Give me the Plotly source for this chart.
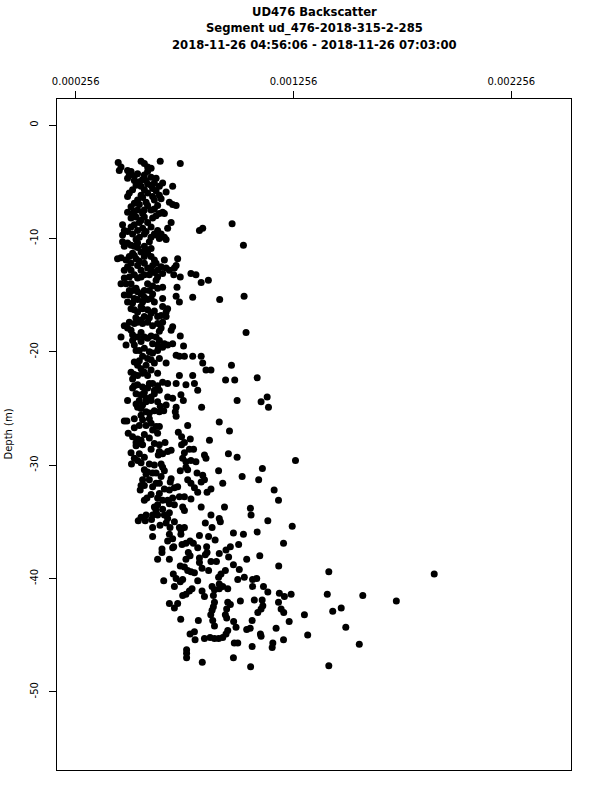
import plotly.graph_objects as go

# ---- data (backscatter in units of 1e-6, depth in m) ----
bs_a = [451,464,456,556,571,586,602,644,736,494,
        510,502,494,540,571,586,579,602,625,525,
        533,517,502,494,556,571,556,540,525,510,
        602,617,640,586,609,655,671,701,686,701,
        717,617,648,632,617,586,602,571,494,517,
        540,563,533,556,571,655,663,694,471,479,
        471,494,510,525,540,563,571,548,533,602,
        632,648,663,671,640,625,602,594,678,471,
        479,494,510,525,540,571,579,602,448,464,
        502,517,533,510,494,510,540,556,525,502,
        586,602,617,609,602,586,632,648,671,686,
        709,724,717,785,808,632,655,824,839,974,
        1026]
dep_a = [-3.3,-3.7,-4.0,-3.2,-3.4,-3.7,-3.8,-3.2,-3.4,-4.0,
         -4.1,-4.4,-4.7,-4.3,-4.4,-4.1,-4.9,-4.6,-4.7,-4.9,
         -5.3,-5.7,-6.0,-6.3,-5.4,-5.7,-6.2,-6.6,-6.9,-7.2,
         -5.3,-5.1,-5.4,-6.0,-6.3,-5.1,-5.9,-5.4,-6.8,-7.0,
         -7.1,-6.6,-6.5,-7.1,-7.4,-7.1,-7.5,-7.5,-7.7,-7.8,
         -7.5,-7.8,-8.1,-8.4,-8.1,-7.7,-7.8,-8.6,-8.8,-9.3,
         -9.7,-9.4,-9.0,-8.8,-9.3,-9.1,-9.6,-9.9,-10.1,-9.0,
         -9.3,-9.6,-9.9,-10.1,-10.0,-9.7,-9.9,-10.3,-9.1,-10.3,
         -10.7,-10.4,-10.6,-10.7,-10.4,-10.7,-11.0,-10.9,-11.8,-11.7,
         -11.6,-11.3,-11.8,-12.2,-12.5,-12.8,-12.4,-12.8,-13.2,-13.4,
         -11.3,-11.6,-11.9,-12.4,-12.8,-12.6,-12.8,-12.5,-12.6,-12.8,
         -12.6,-11.8,-12.4,-13.1,-13.2,-13.4,-13.1,-9.3,-9.1,-8.7,
         -10.6]

bs_b = [479,540,556,571,487,464,510,625,655,706,
        721,736,793,832,865,717,732,479,502,517,
        540,556,571,594,609,632,494,517,540,563,
        586,617,655,678,671,648,632,655,525,540,
        563,586,602,571,671,479,494,510,525,540,
        563,586,609,632,655,648,640,701,694,464,
        487,517,540,556,571,586,625,640,663,632,
        736,751,533,548,571,594,609,632,655,678,
        701,717,732,755,793,832,839,671,525,540,
        556,579,602,617,854,877,793,510,517,540,
        563,586,632,732,801,762,816,517,540,563,
        586,609,617,655,678,717,640,533,556,579,
        602,617,678,701,739,1038,1029,917,971,944,
        986,1089]
dep_b = [-13.5,-13.5,-13.4,-13.2,-14.0,-14.0,-14.0,-13.7,-14.3,-13.2,
         -14.3,-13.4,-15.2,-13.9,-13.7,-15.1,-15.6,-15.0,-15.0,-14.6,
         -14.7,-14.9,-14.6,-14.6,-14.9,-14.4,-15.6,-15.7,-15.4,-15.6,
         -15.4,-15.6,-15.3,-16.2,-16.5,-16.8,-16.9,-16.0,-16.3,-16.5,
         -16.2,-16.3,-16.6,-16.9,-16.9,-17.7,-17.9,-18.1,-17.5,-17.4,
         -17.5,-17.4,-17.7,-17.5,-17.4,-17.9,-18.2,-17.8,-18.1,-18.7,
         -19.4,-19.0,-18.7,-19.1,-18.7,-18.8,-18.7,-19.0,-19.3,-19.4,
         -18.6,-19.5,-19.9,-19.9,-19.7,-20.0,-20.1,-19.9,-19.6,-19.4,
         -19.3,-20.3,-20.4,-20.4,-20.4,-20.4,-21.0,-21.0,-20.9,-21.2,
         -21.5,-21.2,-20.7,-21.0,-21.6,-21.6,-22.1,-21.8,-22.4,-22.1,
         -21.9,-22.1,-21.9,-22.1,-22.8,-22.9,-23.4,-23.2,-22.9,-23.1,
         -23.2,-22.8,-23.4,-22.7,-22.8,-22.8,-23.4,-23.7,-23.8,-24.1,
         -24.0,-23.7,-24.0,-24.1,-23.8,-18.3,-15.1,-15.4,-21.2,-22.5,
         -22.5,-22.3]

bs_c = [494,533,540,563,579,602,632,644,671,717,
        750,834,997,1107,1135,1141,525,479,491,556,
        579,594,617,640,660,713,717,548,579,602,
        625,640,609,632,770,915,962,497,517,533,
        540,556,548,533,563,617,640,666,727,742,
        755,742,782,870,510,640,655,678,694,635,
        755,778,797,847,854,957,997,1265,512,540,
        556,648,655,663,747,762,785,808,571,579,
        586,609,625,736,762,770,813,839,847,832,
        912,1020,1113,1096,563,556,552,571,583,625,
        640,663,686,709,724,640,694,690,770,785,
        801,816,877,859,931,1167,1187,632,655,678,
        686,709,747,755,701,732,755,785,832,877,
        915,939,1058,1061,617,625,556,579,632,663,
        678,571,609]
dep_c = [-24.3,-24.6,-24.9,-24.7,-24.4,-24.3,-24.4,-24.8,-24.7,-24.9,
         -24.3,-24.9,-24.3,-24.4,-24.0,-24.9,-25.9,-26.1,-26.1,-25.6,
         -25.3,-25.4,-25.2,-25.3,-25.2,-25.3,-25.7,-26.5,-26.5,-26.3,
         -26.6,-26.6,-26.9,-27.2,-26.5,-26.2,-27.0,-27.2,-27.5,-28.0,
         -27.7,-27.8,-28.1,-28.3,-28.2,-28.1,-28.2,-28.0,-27.1,-27.5,
         -28.0,-28.2,-27.7,-27.8,-28.9,-28.8,-29.0,-28.8,-28.7,-29.1,
         -28.9,-28.6,-28.6,-29.1,-29.4,-29.0,-29.3,-29.6,-29.9,-29.6,
         -29.8,-29.9,-30.2,-30.5,-29.4,-29.7,-29.6,-29.7,-30.4,-30.8,
         -30.6,-30.7,-30.7,-30.5,-30.2,-30.4,-30.7,-30.9,-31.3,-31.5,
         -30.5,-31.0,-30.3,-31.3,-31.3,-31.8,-32.2,-31.8,-32.9,-31.6,
         -31.6,-32.1,-32.2,-32.0,-31.9,-32.5,-31.2,-31.5,-31.3,-31.6,
         -32.0,-32.4,-32.1,-32.4,-31.6,-32.2,-33.1,-32.9,-33.1,-33.1,
         -33.4,-33.5,-33.7,-34.0,-32.9,-32.8,-32.8,-33.0,-33.7,-34.4,
         -34.7,-33.7,-33.8,-34.4,-33.7,-34.0,-34.6,-34.4,-34.4,-34.4,
         -34.7,-33.1,-34.4]

bs_d = [543,575,604,609,643,671,689,709,732,755,
        851,882,920,1138,1250,609,686,701,678,739,
        739,824,866,896,980,1026,1089,652,652,706,
        744,762,781,796,816,857,859,851,915,946,
        966,958,1004,1210,632,686,701,773,781,762,
        824,824,877,902,980,1007,1041,1101,1188,736,
        755,770,785,801,836,866,923,943,704,717,
        660,747,736,816,912,915,931,954,1000,1030,
        1068,1087,1068,1118,709,790,778,762,747,836,
        847,882,893,915,1138,1191,1214,1245,686,709,
        724,888,893,888,882,876,885,893,954,966,
        949,943,949,1012,1076,1112,1115,1107,1092,1187,
        1199,1211,738,819,981,992,1066,1236,1306,781,
        801,804,847,873,893,912,931,946,954,1041,
        1057,1104,1107,1176,1321,1161,1158,1210,984,1000,
        1066,765,765,765,837,980,1059]
dep_d = [-34.9,-34.9,-34.8,-35.5,-35.3,-35.1,-35.5,-35.0,-35.5,-35.5,
         -35.1,-35.5,-35.0,-34.9,-35.4,-36.3,-36.1,-36.5,-36.7,-35.7,
         -36.1,-36.2,-36.3,-36.6,-36.0,-36.1,-35.9,-37.4,-37.7,-37.2,
         -37.0,-36.9,-36.7,-36.9,-37.3,-37.2,-37.7,-37.9,-37.8,-37.5,
         -37.2,-38.1,-37.0,-36.9,-38.3,-38.3,-37.3,-37.7,-38.0,-38.3,
         -38.2,-38.6,-38.5,-38.5,-38.8,-39.2,-38.3,-38.0,-38.9,-38.9,
         -39.0,-39.3,-39.4,-39.5,-39.1,-39.3,-39.6,-39.3,-39.6,-40.0,
         -40.2,-40.1,-40.3,-40.2,-39.9,-40.5,-40.7,-40.9,-40.1,-39.9,
         -40.1,-40.0,-40.7,-40.7,-40.7,-40.9,-41.1,-41.4,-41.5,-41.1,
         -41.6,-40.7,-41.0,-40.9,-41.2,-41.3,-41.6,-41.4,-42.2,-42.6,
         -42.2,-41.5,-42.1,-42.5,-42.8,-43.2,-43.7,-44.2,-42.1,-42.3,
         -42.7,-43.2,-43.5,-42.0,-41.9,-41.9,-42.4,-42.7,-43.0,-42.1,
         -42.7,-43.0,-43.6,-43.7,-43.8,-44.3,-43.7,-43.8,-43.2,-44.9,
         -44.7,-45.4,-45.3,-45.2,-45.3,-45.3,-45.2,-44.9,-44.6,-44.5,
         -44.4,-44.9,-45.1,-44.4,-45.0,-45.7,-46.1,-45.4,-45.7,-45.7,
         -46.0,-46.3,-46.6,-47.0,-47.4,-47.0,-47.8]

bs_far = [1418, 1902, 1411, 1574, 1728, 1436, 1475, 1496, 1558, 1418]
dep_far = [-39.4, -39.6, -41.4, -41.5, -42.0, -42.9, -42.6, -44.3, -45.8, -47.7]

# overlapping readings inside the solid-looking core of the cloud
bs_core = [525,548,563,586,625,640,609,563,579,548,
           525,510,548,586,609,625,640,517,579,617,
           540,556,571,525,548,571,625,487,479,594,
           617,663,533,586,609,502,525,571,602,510,
           556,617,532,556,594,502,517,556,602,609,
           525,563,586,640,548,571,602,525,594,525,
           571,632,548,556,594,563,525,571,594,602,
           548,525,571,594,617,594,609,602,632,655,
           686,648]
dep_core = [-4.5,-5.0,-4.8,-5.2,-5.8,-6.2,-5.6,-6.4,-6.8,-7.0,
            -7.6,-8.2,-8.6,-8.6,-8.2,-8.0,-7.8,-9.6,-9.4,-9.6,
            -10.8,-11.2,-11.6,-11.5,-12.0,-12.2,-12.2,-11.9,-12.8,-13.2,
            -13.0,-11.9,-14.4,-14.0,-14.2,-14.6,-15.3,-15.2,-15.3,-16.2,
            -16.0,-16.4,-17.0,-17.2,-17.0,-17.4,-18.5,-18.3,-18.6,-19.3,
            -19.4,-20.4,-20.6,-20.6,-20.8,-21.8,-21.6,-22.0,-22.8,-23.0,
            -23.6,-23.0,-24.3,-25.0,-25.9,-26.0,-26.7,-27.3,-27.6,-28.6,
            -29.0,-29.4,-29.3,-29.9,-30.0,-31.3,-31.9,-32.6,-33.5,-33.9,
            -34.2,-31.0]

x_tick_vals = [0.000256, 0.001256, 0.002256]
x_tick_text = ["0.000256", "0.001256", "0.002256"]
y_tick_vals = [0, -10, -20, -30, -40, -50]
y_tick_text = ["0", "-10", "-20", "-30", "-40", "-50"]

title_lines = ["UD476 Backscatter",
               "Segment ud_476-2018-315-2-285",
               "2018-11-26 04:56:06 - 2018-11-26 07:03:00"]
y_label = "Depth (m)"

pairs = [(bs_a, dep_a), (bs_b, dep_b), (bs_c, dep_c), (bs_d, dep_d),
         (bs_far, dep_far), (bs_core, dep_core)]
xs, ys = [], []
for b, d in pairs:
    assert len(b) == len(d), (len(b), len(d))
    xs += [v * 1e-6 for v in b]
    ys += d

FONT = "DejaVu Sans"
fig = go.Figure(go.Scatter(
    x=xs, y=ys, mode="markers",
    marker=dict(color="black", size=7, line=dict(width=0)),
    hoverinfo="skip"))

axis_common = dict(showline=True, linecolor="black", linewidth=1, mirror=True,
                   showgrid=False, zeroline=False, ticks="outside", ticklen=7,
                   tickwidth=1, tickcolor="black",
                   tickfont=dict(family=FONT, size=10, color="black"))

fig.update_xaxes(range=[0.000170, 0.002530], side="top",
                 tickmode="array", tickvals=x_tick_vals, ticktext=x_tick_text,
                 ticklabelstandoff=2, **axis_common)
fig.update_yaxes(range=[-56.9, 2.3], tickmode="array", tickvals=y_tick_vals,
                 ticktext=y_tick_text, tickangle=-90, ticklabelstandoff=7,
                 **axis_common)

annotations = []
for text, yp in zip(title_lines, [1.1297, 1.1048, 1.0800]):
    annotations.append(dict(text="<b>%s</b>" % text, x=0.5, y=yp, xref="paper", yref="paper",
                            xanchor="center", yanchor="middle", showarrow=False,
                            font=dict(family=FONT, size=11.6, color="black")))
annotations.append(dict(text=y_label, x=-0.0953, y=0.5, xref="paper", yref="paper",
                        xanchor="center", yanchor="middle", textangle=-90, showarrow=False,
                        font=dict(family=FONT, size=10, color="black")))

fig.update_layout(width=600, height=800,
                  margin=dict(l=57, r=29, t=99, b=30, pad=0),
                  plot_bgcolor="white", paper_bgcolor="white",
                  showlegend=False, annotations=annotations,
                  font=dict(family=FONT, size=10, color="black"))

# remove the browser's default 8px body margin so the figure sits at the page origin
fig.write_html("out.html", config={"displayModeBar": False},
               post_script="document.body.style.margin='0';")
